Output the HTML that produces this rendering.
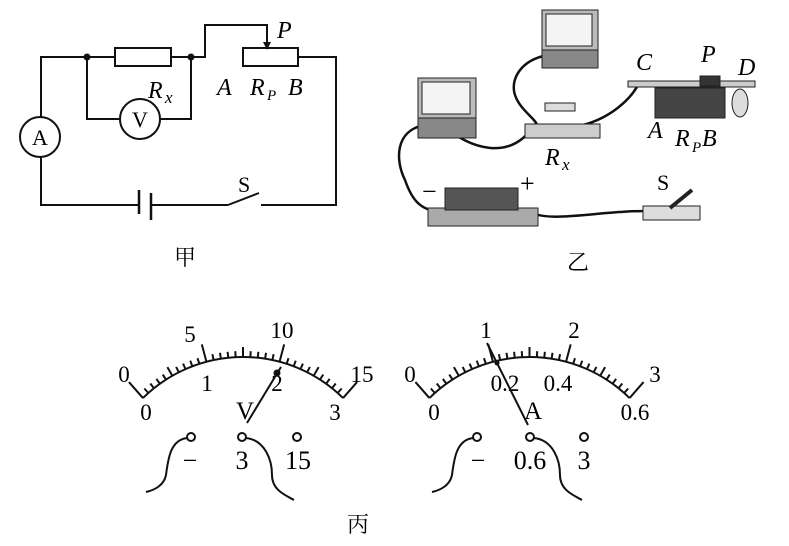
<!DOCTYPE html>
<html><head><meta charset="utf-8"><style>
html,body{margin:0;padding:0;background:#fff}
svg{display:block}
text{font-family:"Liberation Serif","Noto Serif CJK SC",serif;fill:#000}
.it{font-style:italic}
</style></head><body>
<svg id="s" width="789" height="546" viewBox="0 0 789 546" xmlns="http://www.w3.org/2000/svg">
<g stroke="#111" stroke-width="2" fill="none">
<path d="M41,117 V57 H115 M171,57 H205 V25 H267 V44 M298,57 H336 V205 H261 M228,205 L259,193 M228,205 H151 M139,205 H41 V157"/>
<rect x="115" y="48" width="56" height="18"/>
<rect x="243" y="48" width="55" height="18"/>
<path d="M87,57 V119 H120 M160,119 H191 V57"/>
<circle cx="140" cy="119" r="20"/>
<circle cx="40" cy="137" r="20"/>
<path d="M139,190 V214 M151,193 V220" stroke-width="2.5"/>
</g>
<path d="M263,42 L271,42 L267,50 Z" fill="#111"/>
<circle cx="87" cy="57" r="3.5" fill="#111"/><circle cx="191" cy="57" r="3.5" fill="#111"/>
<text x="140" y="127" font-size="22" text-anchor="middle">V</text>
<text x="40" y="145" font-size="22" text-anchor="middle">A</text>
<text x="148" y="98" font-size="24" class="it">R</text><text x="165" y="103" font-size="17" class="it">x</text>
<text x="277" y="38" font-size="24" class="it">P</text>
<text x="217" y="95" font-size="24" class="it">A</text>
<text x="250" y="95" font-size="24" class="it">R</text><text x="267" y="100" font-size="15" class="it">P</text>
<text x="288" y="95" font-size="24" class="it">B</text>
<text x="238" y="192" font-size="22">S</text>
<text x="185" y="265" font-size="22" text-anchor="middle">甲</text>

<g stroke="#111" stroke-width="2.5" fill="none">
<path d="M425,125 C395,130 395,160 405,180 C412,200 420,210 440,212"/>
<path d="M443,125 C470,150 510,160 532,128"/>
<path d="M548,55 C520,60 510,80 515,95 C520,110 535,118 537,125"/>
<path d="M583,125 C610,118 630,100 638,85"/>
<path d="M528,210 C545,225 600,210 650,211"/>
</g>
<g stroke="#222" stroke-width="1">
<rect x="542" y="10" width="56" height="58" fill="#bbb"/>
<rect x="546" y="14" width="46" height="32" fill="#f4f4f4"/>
<rect x="542" y="50" width="56" height="18" fill="#888"/>
<rect x="418" y="78" width="58" height="60" fill="#bbb"/>
<rect x="422" y="82" width="48" height="32" fill="#f4f4f4"/>
<rect x="418" y="118" width="58" height="20" fill="#888"/>
<rect x="525" y="124" width="75" height="14" fill="#ccc"/>
<rect x="545" y="103" width="30" height="8" fill="#ddd"/>
<rect x="628" y="81" width="127" height="6" fill="#ccc"/>
<rect x="655" y="88" width="70" height="30" fill="#444"/>
<rect x="700" y="76" width="20" height="10" fill="#333"/>
<ellipse cx="740" cy="103" rx="8" ry="14" fill="#ddd"/>
<rect x="428" y="208" width="110" height="18" fill="#aaa"/>
<rect x="445" y="188" width="73" height="22" fill="#555"/>
<rect x="643" y="206" width="57" height="14" fill="#ddd"/>
</g>
<path d="M670,208 L692,190" stroke="#222" stroke-width="4"/>
<text x="636" y="70" font-size="24" class="it">C</text>
<text x="701" y="62" font-size="24" class="it">P</text>
<text x="738" y="75" font-size="24" class="it">D</text>
<text x="648" y="138" font-size="24" class="it">A</text>
<text x="675" y="146" font-size="24" class="it">R</text><text x="692" y="152" font-size="15" class="it">P</text>
<text x="702" y="146" font-size="24" class="it">B</text>
<text x="545" y="165" font-size="24" class="it">R</text><text x="562" y="170" font-size="17" class="it">x</text>
<text x="422" y="200" font-size="26">−</text>
<text x="520" y="192" font-size="26">+</text>
<text x="657" y="190" font-size="22">S</text>
<text x="578" y="270" font-size="22" text-anchor="middle">乙</text>

<g id="meters" stroke="#111" stroke-width="2" fill="none"></g>
<g font-size="23" text-anchor="middle">
<text x="124" y="382">0</text><text x="190" y="342">5</text><text x="282" y="338">10</text><text x="362" y="382">15</text>
<text x="146" y="420">0</text><text x="207" y="391">1</text><text x="277" y="391">2</text><text x="335" y="420">3</text>
<text x="245" y="419" font-size="25">V</text>
<text x="410" y="382">0</text><text x="486" y="338">1</text><text x="574" y="338">2</text><text x="655" y="382">3</text>
<text x="434" y="420">0</text><text x="505" y="391">0.2</text><text x="558" y="391">0.4</text><text x="635" y="420">0.6</text>
<text x="533" y="419" font-size="25">A</text>
</g>
<g font-size="26" text-anchor="middle">
<text x="190" y="469">−</text><text x="242" y="469">3</text><text x="298" y="469">15</text>
<text x="478" y="469">−</text><text x="530" y="469">0.6</text><text x="584" y="469">3</text>
</g>
<text x="358" y="532" font-size="22" text-anchor="middle">丙</text>
<g stroke="#111" stroke-width="2" fill="none">
<line x1="247" y1="423" x2="281" y2="367"/>
<line x1="528" y1="425" x2="487" y2="343"/>
<circle cx="191" cy="437" r="4"/><circle cx="242" cy="437" r="4"/><circle cx="297" cy="437" r="4"/>
<circle cx="477" cy="437" r="4"/><circle cx="530" cy="437" r="4"/><circle cx="584" cy="437" r="4"/>
<path d="M187,438 C170,440 168,460 166,475 C164,485 155,490 146,492"/>
<path d="M246,438 C265,440 272,460 272,475 C272,490 285,495 294,500"/>
<path d="M473,438 C456,440 454,460 452,475 C450,485 441,490 432,492"/>
<path d="M534,438 C553,440 560,460 560,475 C560,490 573,495 582,500"/>
</g>
<circle cx="277" cy="373" r="3.5" fill="#111"/>
<circle cx="497" cy="363" r="2.5" fill="#111"/>
</svg>
<script>
var g=document.getElementById('meters'),ns='http://www.w3.org/2000/svg';
function ln(a,b,c,d){var l=document.createElementNS(ns,'line');l.setAttribute('x1',a);l.setAttribute('y1',b);l.setAttribute('x2',c);l.setAttribute('y2',d);g.appendChild(l);}
function meter(cx,cy,R,tx){var A=44.6*Math.PI/180;
 var p=document.createElementNS(ns,'path');
 p.setAttribute('d','M'+(cx-R*Math.sin(A))+','+(cy-R*Math.cos(A))+' A'+R+','+R+' 0 0 1 '+(cx+R*Math.sin(A))+','+(cy-R*Math.cos(A)));g.appendChild(p);
 for(var i=0;i<=30;i++){var t=-A+2*A*i/30,L=(i%10==0)?(i==0||i==30?0:18):(i%5==0?10:6);
  if(L==0)continue;var s=Math.sin(t),c=Math.cos(t);
  ln(cx+R*s,cy-R*c,cx+(R+L)*s,cy-(R+L)*c);}
 var s0=Math.sin(-A),c0=Math.cos(-A);
 ln(cx+R*s0,cy-R*c0,cx+R*s0-tx,cy-R*c0-16);
 ln(cx-R*s0,cy-R*c0,cx-R*s0+tx,cy-R*c0-16);
}
meter(243,499.5,142.5,14);meter(529.5,499.5,142.5,14);
</script>
</body></html>
